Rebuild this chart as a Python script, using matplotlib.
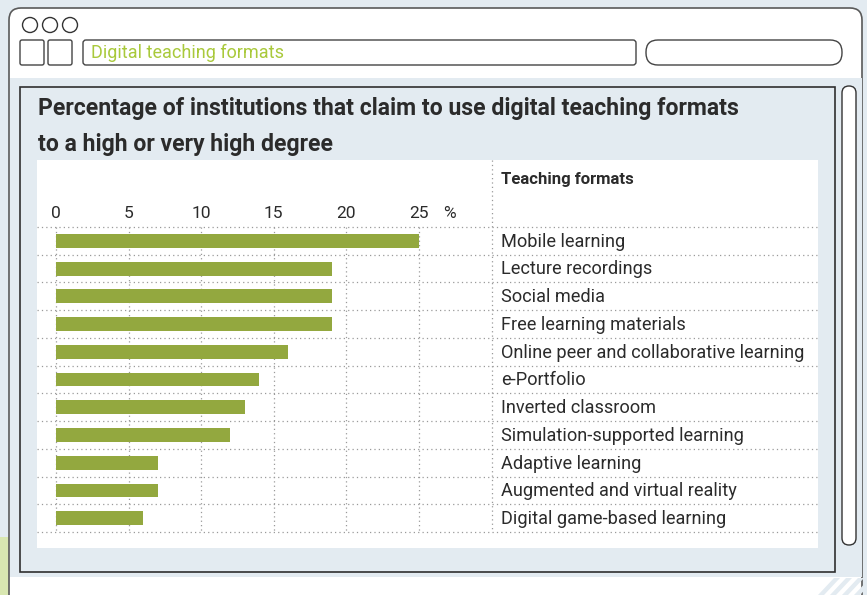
import matplotlib
matplotlib.use('Agg')
import matplotlib.pyplot as plt
from matplotlib import font_manager
from matplotlib.patches import FancyBboxPatch, Rectangle, Circle, Polygon

# data
formats = ['Mobile learning', 'Lecture recordings', 'Social media', 'Free learning materials',
           'Online peer and collaborative learning', 'e-Portfolio', 'Inverted classroom',
           'Simulation-supported learning', 'Adaptive learning', 'Augmented and virtual reality',
           'Digital game-based learning']
shares = [25, 19, 19, 19, 16, 14, 13, 12, 7, 7, 6]
ticks = [0, 5, 10, 15, 20, 25]
title = ('Percentage of institutions that claim to use digital teaching formats\n'
         'to a high or very high degree')
url_text = 'Digital teaching formats'
col_header = 'Teaching formats'

names = {f.name for f in font_manager.fontManager.ttflist}
font = 'Roboto' if 'Roboto' in names else 'DejaVu Sans'
plt.rcParams['font.family'] = [font, 'DejaVu Sans']

BG = '#e3ebf1'
BAR = '#93a83f'
TXT = '#2b2b2b'
DOT = '#9a9a9a'

fig = plt.figure(figsize=(8.67, 5.95), dpi=100)
fig.patch.set_facecolor(BG)

# decoration layer in pixel coordinates
bg = fig.add_axes([0, 0, 1, 1])
bg.set_xlim(0, 867)
bg.set_ylim(595, 0)
bg.axis('off')

bg.add_patch(Rectangle((0, 537), 10, 60, fc='#d9e7b1', ec='none'))
bg.add_patch(FancyBboxPatch((9, 8), 853, 640, boxstyle='round,pad=0,rounding_size=12',
                            fc='white', ec='#5a5a5a', lw=1.2))
bg.add_patch(Rectangle((9.6, 78), 852, 499, fc=BG, ec='none'))
for k in range(4):
    x0 = 818 + k * 12
    bg.add_patch(Polygon([(x0, 595), (x0 + 6, 595), (x0 + 22, 578), (x0 + 16, 578)],
                         closed=True, fc=BG, ec='none'))

for cx in (30, 50, 70):
    bg.add_patch(Circle((cx, 25), 7.5, fc='white', ec='#333333', lw=1))
for x0 in (20, 48):
    bg.add_patch(FancyBboxPatch((x0, 40), 24, 25, boxstyle='round,pad=0,rounding_size=2',
                                fc='white', ec='#444444', lw=1))
bg.add_patch(FancyBboxPatch((83, 40), 553, 25, boxstyle='round,pad=0,rounding_size=3',
                            fc='white', ec='#444444', lw=1))
bg.text(91, 53, url_text, color='#a9c93b', fontsize=13, va='center', ha='left')
bg.add_patch(FancyBboxPatch((646, 40), 196, 25, boxstyle='round,pad=0,rounding_size=12',
                            fc='white', ec='#444444', lw=1))

bg.add_patch(Rectangle((20, 87), 815, 485, fc=BG, ec='#2f2f2f', lw=1.2))
bg.add_patch(FancyBboxPatch((842, 86), 14, 459, boxstyle='round,pad=0,rounding_size=7',
                            fc='white', ec='#333333', lw=1))
for k, line in enumerate(title.split('\n')):
    bg.text(38, 109 + 35 * k, line, color=TXT, fontsize=16.6, fontweight='bold',
            va='center', ha='left')

# chart area
px_unit = (419 - 56) / 25.0
row_px = (532 - 227) / 11.0
x_left = (37 - 56) / px_unit
x_right = (818 - 56) / px_unit
y_top = (160 - 240.9) / row_px
y_bot = (548 - 240.9) / row_px

ax = fig.add_axes([37 / 867, 1 - 548 / 595, (818 - 37) / 867, (548 - 160) / 595])
ax.set_facecolor('white')
ax.set_xlim(x_left, x_right)
ax.set_ylim(y_bot, y_top)
for s in ax.spines.values():
    s.set_visible(False)
ax.set_xticks([])
ax.set_yticks([])

n = len(formats)
rows = list(range(n))
dots = (0, (1, 2.5))
for i in range(n + 1):
    ax.plot([x_left, x_right], [i - 0.5, i - 0.5], color=DOT, lw=0.9, ls=dots, zorder=1)
for t in ticks:
    ax.plot([t, t], [-0.5, n - 0.5], color=DOT, lw=0.9, ls=dots, zorder=1)
ax.plot([30, 30], [y_top, n - 0.5], color=DOT, lw=0.9, ls=dots, zorder=1)

ax.barh(rows, shares, height=0.5, color=BAR, zorder=2)

for t in ticks:
    ax.text(t, -1.0, str(t), ha='center', va='center', fontsize=12.5, color=TXT)
ax.text(27.1, -1.0, '%', ha='center', va='center', fontsize=12.5, color=TXT)
ax.text(30.65, -2.22, col_header, ha='left', va='center', fontsize=12, color=TXT,
        fontweight='bold')
for i, lab in enumerate(formats):
    ax.text(30.65, i + 0.03, lab, ha='left', va='center', fontsize=13.1, color=TXT)

fig.savefig('out.png', dpi=100, facecolor=fig.get_facecolor())
